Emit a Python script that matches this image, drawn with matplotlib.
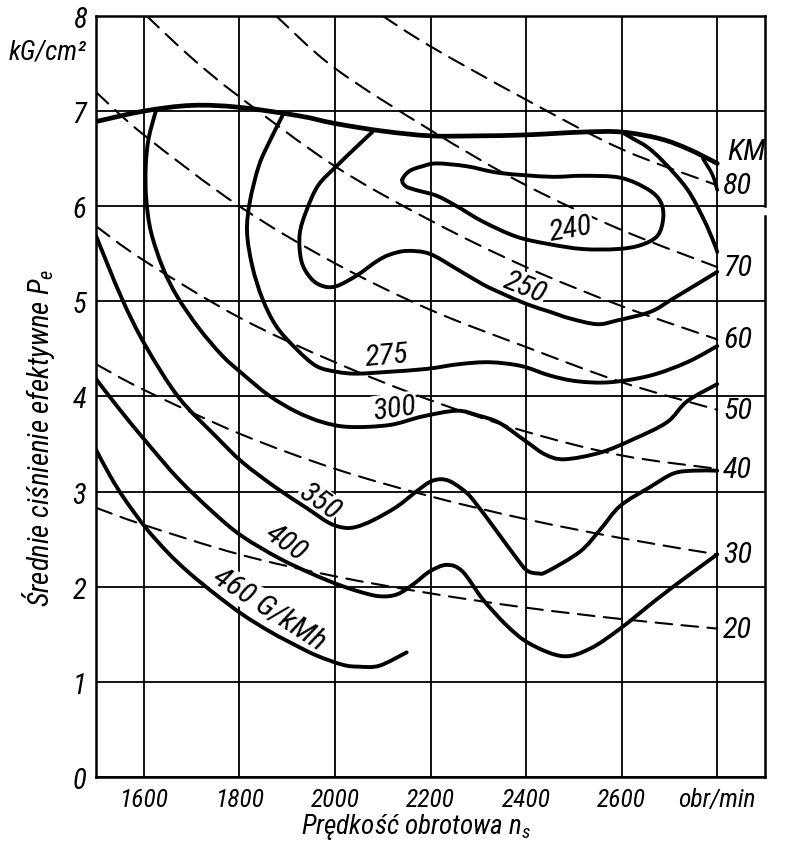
import numpy as np
import matplotlib
matplotlib.use("Agg")
import matplotlib.pyplot as plt
import matplotlib.font_manager as fm
from matplotlib.path import Path
from matplotlib.patches import PathPatch

# pick a narrow face if one is installed, otherwise Liberation Sans
narrow_names = ['Liberation Sans Narrow', 'Roboto Condensed', 'Open Sans Condensed',
                'Noto Sans Condensed', 'DejaVu Sans Condensed']
installed = {f.name for f in fm.fontManager.ttflist}
face = next((n for n in narrow_names if n in installed), None)
scale = 1.15
if face is None:
    face = 'Liberation Sans'
    scale = 1.0
plt.rcParams['font.family'] = [face, 'DejaVu Sans']
plt.rcParams['font.style'] = 'italic'
plt.rcParams['mathtext.fontset'] = 'custom'
plt.rcParams['mathtext.rm'] = face + ':italic'
plt.rcParams['mathtext.it'] = face + ':italic'

# ---- axes ----
rpm_ticks = [1600, 1800, 2000, 2200, 2400, 2600, 2800]
rpm_tick_labels = ['1600', '1800', '2000', '2200', '2400', '2600', 'obr/min']
pe_ticks = [0, 1, 2, 3, 4, 5, 6, 7, 8]

# ---- full load curve ----
full_rpm = [1500, 1600, 1700, 1800, 1925, 2000, 2100, 2200, 2300, 2400, 2520, 2600, 2680, 2740, 2800]
full_pe = [6.89, 7.00, 7.06, 7.04, 6.95, 6.87, 6.79, 6.74, 6.74, 6.75, 6.78, 6.78, 6.71, 6.60, 6.45]
wedge_rpm = [2770, 2790, 2800]
wedge_pe = [6.50, 6.33, 6.17]

# ---- specific fuel consumption contours (G/kMh) ----
c240_rpm = [2141, 2156, 2183, 2213, 2276, 2345, 2450, 2519, 2597, 2654, 2681, 2687, 2675, 2639,
            2591, 2519, 2450, 2380, 2309, 2255, 2213, 2170, 2148]
c240_pe = [6.28, 6.37, 6.42, 6.45, 6.42, 6.35, 6.31, 6.32, 6.30, 6.18, 6.05, 5.88, 5.69, 5.59,
           5.55, 5.55, 5.60, 5.68, 5.84, 6.00, 6.11, 6.17, 6.21]

c250_rpm = [2078, 2040, 2003, 1965, 1940, 1926, 1930, 1950, 1975, 2003, 2045, 2087, 2114, 2150,
            2198, 2255, 2309, 2351, 2402, 2450, 2492, 2549, 2591, 2660, 2708, 2800]
c250_pe = [6.78, 6.60, 6.42, 6.22, 5.95, 5.70, 5.42, 5.24, 5.16, 5.16, 5.27, 5.42, 5.49, 5.53,
           5.50, 5.34, 5.18, 5.08, 4.97, 4.89, 4.82, 4.76, 4.80, 4.89, 5.03, 5.31]
c250b_rpm = [2600, 2624, 2654, 2687, 2737, 2771, 2792, 2800]
c250b_pe = [6.78, 6.71, 6.62, 6.47, 6.18, 5.87, 5.63, 5.52]

c275_rpm = [1890, 1865, 1841, 1822, 1816, 1827, 1848, 1877, 1919, 1961, 2003, 2045, 2114, 2192,
            2260, 2324, 2390, 2450, 2507, 2576, 2660, 2737, 2800]
c275_pe = [6.95, 6.70, 6.43, 6.05, 5.73, 5.37, 5.03, 4.74, 4.50, 4.32, 4.26, 4.24, 4.26, 4.29,
           4.34, 4.36, 4.32, 4.22, 4.16, 4.15, 4.22, 4.36, 4.53]

c300_rpm = [1625, 1610, 1604, 1605, 1615, 1640, 1670, 1715, 1764, 1806, 1862, 1919, 1974, 2030,
            2114, 2183, 2255, 2300, 2345, 2402, 2440, 2480, 2555, 2624, 2695, 2737, 2800]
c300_pe = [7.00, 6.71, 6.42, 6.08, 5.73, 5.35, 5.05, 4.72, 4.43, 4.24, 4.01, 3.84, 3.73, 3.68,
           3.70, 3.79, 3.85, 3.80, 3.72, 3.52, 3.39, 3.34, 3.41, 3.55, 3.73, 3.95, 4.13]

c350_rpm = [1499, 1554, 1604, 1673, 1751, 1806, 1877, 1940, 1988, 2020, 2045, 2080, 2129,
            2170, 2198, 2220, 2240, 2265, 2288, 2339, 2380, 2402, 2425, 2444, 2513, 2555, 2597,
            2660, 2708, 2750, 2800]
c350_pe = [5.70, 5.03, 4.53, 3.99, 3.58, 3.31, 3.04, 2.83, 2.67, 2.62, 2.63, 2.70, 2.84,
           3.00, 3.10, 3.13, 3.11, 3.03, 2.92, 2.58, 2.30, 2.17, 2.14, 2.16, 2.37, 2.60, 2.85,
           3.05, 3.19, 3.22, 3.22]

c400_rpm = [1499, 1550, 1604, 1673, 1750, 1806, 1883, 1950, 2003, 2050, 2093, 2130, 2165, 2198,
            2234, 2267, 2309, 2360, 2408, 2477, 2534, 2597, 2674, 2740, 2800]
c400_pe = [4.19, 3.86, 3.53, 3.13, 2.76, 2.53, 2.30, 2.14, 2.03, 1.95, 1.90, 1.92, 2.03, 2.16,
           2.23, 2.16, 1.87, 1.59, 1.40, 1.27, 1.35, 1.56, 1.87, 2.12, 2.34]

c460_rpm = [1499, 1530, 1560, 1604, 1650, 1694, 1750, 1806, 1860, 1904, 1960, 2016, 2050, 2093, 2150]
c460_pe = [3.45, 3.16, 2.92, 2.62, 2.36, 2.15, 1.92, 1.71, 1.54, 1.42, 1.28, 1.18, 1.16, 1.17, 1.31]

label_text = ['240', '250', '275', '300', '350', '400', '460 G/kMh']
label_rpm = [2494, 2397, 2108, 2125, 1967, 1898, 1862]
label_pe = [5.77, 5.15, 4.43, 3.88, 2.90, 2.47, 1.77]
label_rot = [10, -22, 5, 8, -35, -35, -33]

# ---- constant power lines (KM) ----
grid_rpm = [1500, 1600, 1800, 2000, 2200, 2400, 2600, 2800]
pw20_pe = [2.83, 2.65, 2.34, 2.11, 1.93, 1.78, 1.66, 1.56]
pw30_pe = [4.34, 4.07, 3.61, 3.24, 2.95, 2.71, 2.51, 2.34]
pw40_pe = [5.79, 5.43, 4.83, 4.36, 3.96, 3.63, 3.38, 3.24]
pw50_pe = [7.20, 6.75, 6.00, 5.40, 4.91, 4.52, 4.15, 3.86]
pw60_rpm = [1606, 1700, 1800, 2000, 2200, 2400, 2600, 2800]
pw60_pe = [8.00, 7.56, 7.15, 6.42, 5.85, 5.36, 4.95, 4.60]
pw70_rpm = [1877, 2000, 2200, 2400, 2600, 2800]
pw70_pe = [8.00, 7.45, 6.80, 6.22, 5.75, 5.36]
pw80_rpm = [2100, 2200, 2400, 2600, 2800]
pw80_pe = [8.00, 7.68, 7.12, 6.60, 6.22]
power_labels = ['20', '30', '40', '50', '60', '70', '80']


def smooth_path(xs, ys, closed=False):
    # Catmull-Rom through the points, drawn as cubic Bezier segments
    pts = np.column_stack([xs, ys]).astype(float)
    if closed:
        pts = np.vstack([pts[-1], pts, pts[0], pts[1]])
    else:
        pts = np.vstack([pts[0], pts, pts[-1]])
    verts = [pts[1]]
    codes = [Path.MOVETO]
    for i in range(1, len(pts) - 2):
        p0, p1, p2, p3 = pts[i - 1], pts[i], pts[i + 1], pts[i + 2]
        verts += [p1 + (p2 - p0) / 6, p2 - (p3 - p1) / 6, p2]
        codes += [Path.CURVE4] * 3
    return Path(verts, codes)


def draw(ax, xs, ys, lw, ls='solid', closed=False, z=5):
    patch = PathPatch(smooth_path(xs, ys, closed), fill=False, edgecolor='black',
                      linewidth=lw, linestyle=ls, capstyle='round', zorder=z)
    ax.add_patch(patch)


fig = plt.figure(figsize=(7.99, 8.45), dpi=100)
ax = fig.add_axes([0.1202, 0.0793, 0.8373, 0.9006])
ax.set_xlim(1500, 2900)
ax.set_ylim(0, 8)

ax.set_xticks(rpm_ticks)
ax.set_xticklabels(rpm_tick_labels, fontsize=16 * scale)
ax.set_yticks(pe_ticks)
ax.set_yticklabels([str(v) for v in pe_ticks], fontsize=18 * scale)
ax.tick_params(axis='both', length=0)
ax.tick_params(axis='x', pad=7)
ax.tick_params(axis='y', pad=7)
ax.grid(True, color='black', linewidth=1.3)
ax.set_axisbelow(True)
for side in ['left', 'top', 'bottom']:
    ax.spines[side].set_linewidth(1.8)
ax.spines['right'].set_visible(False)
ax.plot([1, 1], [0, 0.737], transform=ax.transAxes, color='black', lw=1.8, clip_on=False)
ax.plot([1, 1], [0.750, 1], transform=ax.transAxes, color='black', lw=1.8, clip_on=False)

# power lines
dash = (0, (8, 4.5))
power_lines = [(grid_rpm, pw20_pe), (grid_rpm, pw30_pe), (grid_rpm, pw40_pe), (grid_rpm, pw50_pe),
               (pw60_rpm, pw60_pe), (pw70_rpm, pw70_pe), (pw80_rpm, pw80_pe)]
for (xs, ys), lab in zip(power_lines, power_labels):
    draw(ax, xs, ys, 1.5, ls=dash, z=3)
    ax.text(xs[-1] + 12, ys[-1], lab, fontsize=19 * scale, ha='left', va='center')
ax.text(2822, 6.58, 'KM', fontsize=19 * scale, ha='left', va='center')

# full load + contours
draw(ax, full_rpm, full_pe, 3.4)
draw(ax, wedge_rpm, wedge_pe, 2.6)
draw(ax, c240_rpm, c240_pe, 2.8, closed=True)
for xs, ys in [(c250_rpm, c250_pe), (c250b_rpm, c250b_pe), (c275_rpm, c275_pe),
               (c300_rpm, c300_pe), (c350_rpm, c350_pe), (c400_rpm, c400_pe),
               (c460_rpm, c460_pe)]:
    draw(ax, xs, ys, 2.8)

for t, x, y, r in zip(label_text, label_rpm, label_pe, label_rot):
    ax.text(x, y, t, fontsize=19 * scale, rotation=r, rotation_mode='anchor', ha='center',
            va='center', zorder=4, bbox=dict(facecolor='white', edgecolor='none', pad=0.5))

fig.text(0.060, 0.938, 'kG/cm²', fontsize=17 * scale, ha='center', va='center')
fig.text(0.048, 0.482, r'Średnie ciśnienie efektywne $P_e$', fontsize=18 * scale, rotation=90,
         ha='center', va='center')
fig.text(0.521, 0.021, r'Prędkość obrotowa $n_s$', fontsize=17 * scale, ha='center', va='center')

fig.savefig('out.png', dpi=100)
